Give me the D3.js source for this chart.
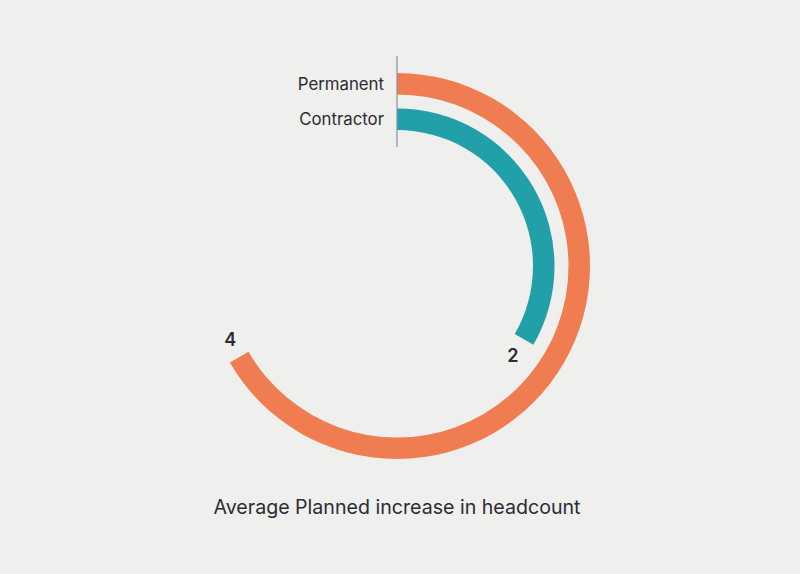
<!DOCTYPE html>
<html><head><meta charset="utf-8">
<script src="https://cdn.jsdelivr.net/npm/d3@7"></script>
<style>html,body{margin:0;padding:0;background:#efefed;}svg{display:block;}</style>
</head><body>
<script>
const categories = ["Permanent", "Contractor"];
const values = [4, 2];
const maxValue = 6;
const colors = ["#f07d52", "#21a0aa"];
const title = "Average Planned increase in headcount";

const W = 800, H = 574;
const cx = 397, cy = 266;
const svg = d3.select("body").append("svg").attr("width", W).attr("height", H);
svg.append("rect").attr("width", W).attr("height", H).attr("fill", "#efefed");
const g = svg.append("g").attr("transform", `translate(${cx},${cy})`);

const angle = d3.scaleLinear().domain([0, maxValue]).range([0, 2 * Math.PI]);
const band = d3.scaleBand().domain(categories).range([193, 136]).paddingInner(0.394).paddingOuter(0);

const arc = d3.arc()
  .innerRadius(d => band(d.cat))
  .outerRadius(d => band(d.cat) + band.bandwidth())
  .startAngle(0)
  .endAngle(d => angle(d.val));

const data = categories.map((c, i) => ({cat: c, val: values[i], color: colors[i]}));

g.selectAll("path.bar").data(data).enter().append("path")
  .attr("class", "bar")
  .attr("d", arc)
  .attr("fill", d => d.color);

// axis line
g.append("line").attr("x1", 0).attr("x2", 0).attr("y1", -210).attr("y2", -119)
  .attr("stroke", "#8a9099").attr("stroke-width", 1.2);

// category labels
g.selectAll("text.cat").data(data).enter().append("text")
  .attr("class", "cat")
  .attr("x", -13)
  .attr("y", d => -(band(d.cat) + band.bandwidth() / 2))
  .attr("dy", "0.35em")
  .attr("text-anchor", "end")
  .attr("font-family", "Inter, 'Noto Sans', sans-serif")
  .attr("font-size", 16.8)
  .attr("fill", "#2a2d33")
  .text(d => d.cat);

// value labels
g.selectAll("text.val").data(data).enter().append("text")
  .attr("class", "val")
  .each(function(d) {
    const r = band(d.cat) + band.bandwidth() / 2;
    const a = angle(d.val) + 20 / r;
    d3.select(this).attr("x", r * Math.sin(a)).attr("y", -r * Math.cos(a));
  })
  .attr("dy", "0.35em")
  .attr("text-anchor", "middle")
  .attr("font-family", "Inter, 'Noto Sans', sans-serif")
  .attr("font-size", 18)
  .attr("font-weight", 600)
  .attr("fill", "#2a2d33")
  .text(d => d.val);

svg.append("text")
  .attr("x", cx).attr("y", 514)
  .attr("text-anchor", "middle")
  .attr("font-family", "Inter, 'Noto Sans', sans-serif")
  .attr("font-size", 19.6)
  .attr("fill", "#2a2d33")
  .text(title);
</script>
</body></html>
